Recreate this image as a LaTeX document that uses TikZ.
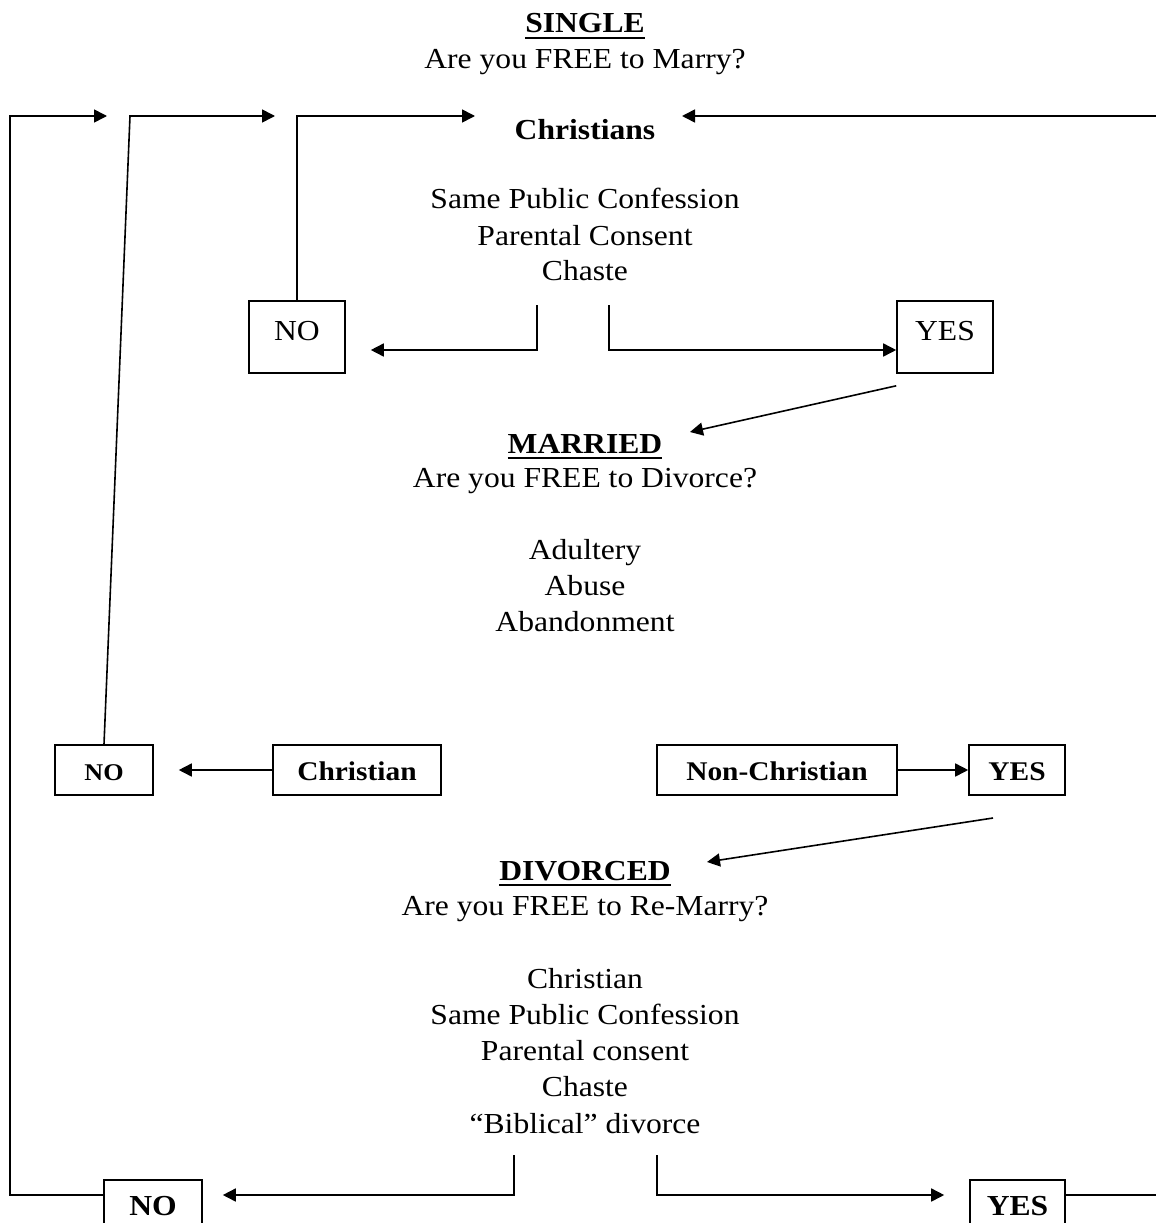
\documentclass[tikz,border=0pt]{standalone}
\usepackage{fontspec}
\setmainfont{Liberation Serif}[FakeStretch=1.09]
\usetikzlibrary{arrows.meta}
\begin{document}
\begin{tikzpicture}[x=1pt,y=-1pt,
  arr/.style={line width=1.6pt,-{Triangle[length=13pt,width=13pt]}},
  ln/.style={line width=1.6pt},
  uline/.style={line width=2pt},
  txt/.style={anchor=base,font=\fontsize{29}{35}\selectfont,inner sep=0pt},
  hd/.style={anchor=base,font=\fontsize{29}{35}\selectfont\bfseries,inner sep=0pt},
  box/.style={draw,line width=1.6pt,inner sep=0pt,text height=20pt,text depth=0pt},
  boxr/.style={box,font=\fontsize{29}{32}\selectfont},
  boxb/.style={box,font=\fontsize{27}{30}\selectfont\bfseries},
]
\useasboundingbox[fill=white] (0,0) rectangle (1156,1223);

% ---- SINGLE ----
\node[hd] (single) at (585,33) {SINGLE};
\draw[uline] ([yshift=-5pt]single.base west) -- ([yshift=-5pt]single.base east);
\node[txt] (q1) at (585,69) {Are you FREE to Marry?};
\node[hd] (chr) at (585,139) {Christians};
\node[txt] (s1) at (585,208) {Same Public Confession};
\node[txt] (s2) at (585,245) {Parental Consent};
\node[txt] (s3) at (585,280) {Chaste};

\node[boxr,minimum width=96pt,minimum height=72pt,text height=21pt,text depth=15pt] (no1) at (297,337) {NO};
\node[boxr,minimum width=96pt,minimum height=72pt,text height=21pt,text depth=15pt] (yes1) at (945,337) {YES};

% ---- MARRIED ----
\node[hd] (mar) at (585,453) {MARRIED};
\draw[uline] ([yshift=-5pt]mar.base west) -- ([yshift=-5pt]mar.base east);
\node[txt] (q2) at (585,487) {Are you FREE to Divorce?};
\node[txt] (m1) at (585,559) {Adultery};
\node[txt] (m2) at (585,595) {Abuse};
\node[txt] (m3) at (585,631) {Abandonment};

\node[boxb,minimum width=98pt,minimum height=50pt,font=\fontsize{24}{26}\selectfont\bfseries] (no2) at (104,770) {NO};
\node[boxb,minimum width=168pt,minimum height=50pt] (chn) at (357,770) {Christian};
\node[boxb,minimum width=240pt,minimum height=50pt] (nch) at (777,770) {Non-Christian};
\node[boxb,minimum width=96pt,minimum height=50pt] (yes2) at (1017,770) {YES};

% ---- DIVORCED ----
\node[hd] (div) at (585,880) {DIVORCED};
\draw[uline] ([yshift=-5pt]div.base west) -- ([yshift=-5pt]div.base east);
\node[txt] (q3) at (585,915) {Are you FREE to Re-Marry?};
\node[txt] (d1) at (585,988) {Christian};
\node[txt] (d2) at (585,1024) {Same Public Confession};
\node[txt] (d3) at (585,1060) {Parental consent};
\node[txt] (d4) at (585,1096) {Chaste};
\node[txt] (d5) at (585,1133) {“Biblical” divorce};

\node[boxb,minimum width=98pt,minimum height=50pt,font=\fontsize{29}{30}\selectfont\bfseries] (noB) at (153,1205) {NO};
\node[boxb,minimum width=95pt,minimum height=50pt,font=\fontsize{29}{30}\selectfont\bfseries] (yesB) at (1017.5,1205) {YES};

% ---- coordinates ----
\coordinate (t1) at (107,116);
\coordinate (t2) at (275,116);
\coordinate (t3) at (475,116);
\coordinate (t4) at (682,116);
\coordinate (rin) at (1156,116);
\coordinate (rout) at (1156,1195);
\coordinate (b1) at (537,305);
\coordinate (b2) at (609,305);
\coordinate (b3) at (514,1155);
\coordinate (b4) at (657,1155);

% ---- connectors ----
\draw[arr] ([yshift=10pt]noB.west) -- (10,1195) -- (10,116) -- (t1);
\draw[arr] (no2.north) -- (130,116) -- (t2);
\draw[arr] (no1.north) -- (297,116) -- (t3);
\draw[arr] (rin) -- (t4);

\draw[arr] (b1) -- (537,350) -- ([xshift=25pt]no1.east |- 0,350);
\draw[arr] (b2) -- (609,350) -- (yes1.west |- 0,350);
\draw[arr] ([yshift=-12pt]yes1.south west) -- (690,432);

\draw[arr] (chn.west) -- ([xshift=25pt]no2.east);
\draw[arr] (nch.east) -- (yes2.west);
\draw[arr] (993,818) -- (707,862);

\draw[arr] (b3) -- (514,1195) -- ([xshift=20pt,yshift=10pt]noB.east);
\draw[arr] (b4) -- (657,1195) -- ([xshift=-25pt,yshift=10pt]yesB.west);
\draw[ln] ([yshift=10pt]yesB.east) -- (rout);
\end{tikzpicture}
\end{document}
